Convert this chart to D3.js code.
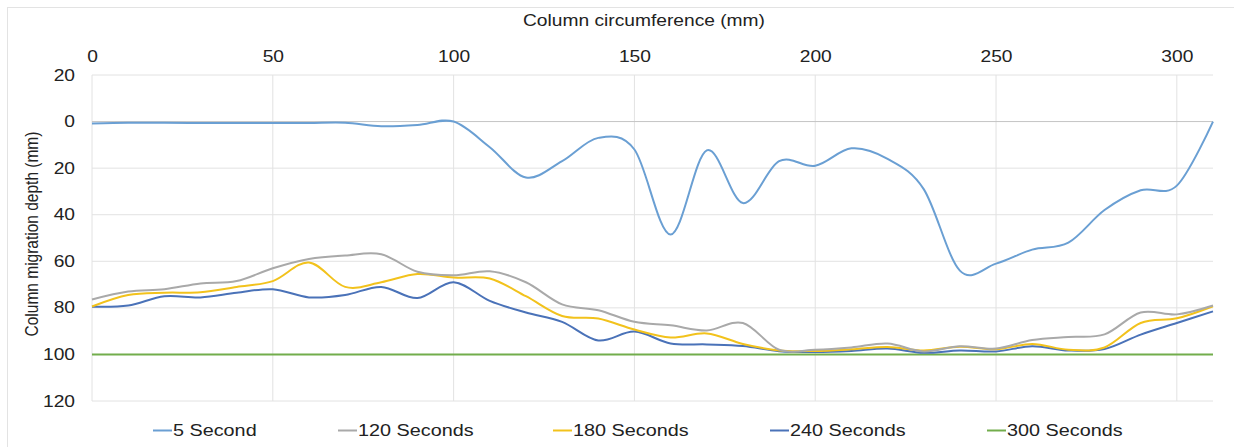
<!DOCTYPE html>
<html>
<head>
<meta charset="utf-8">
<script src="https://cdn.jsdelivr.net/npm/d3@7"></script>
<style>
  body { margin: 0; background: #fff; }
  svg { font-family: "Liberation Sans", Arial, sans-serif; }
</style>
</head>
<body>
<svg id="chart" width="1234" height="447" viewBox="0 0 1234 447"></svg>
<script>
// circumference positions (mm)
const positions = d3.range(0, 311, 10);

// migration depth (mm) per time step
const sec5   = [0.8, 0.5, 0.5, 0.6, 0.6, 0.6, 0.6, 0.5, 2, 1.5, 0, 11, 24, 17, 7, 12, 48.5, 12.4, 35, 17, 19, 11.5, 16, 29, 64, 61, 55, 52, 38, 29.5, 27.5, 0];
const sec120 = [76.4, 73, 72, 69.5, 68.5, 63, 59, 57.5, 57, 64.5, 66, 64.3, 69, 78.5, 81, 86, 87.5, 89.7, 86.5, 98, 98, 97, 95.3, 98.7, 96.5, 97.5, 93.8, 92.5, 91.4, 82, 82.8, 79];
const sec180 = [79.4, 74.5, 73.5, 73.3, 71, 68.5, 60.5, 71, 69, 65.5, 67, 67.4, 75, 83.5, 84.6, 89.3, 92.7, 91, 95.5, 98.3, 98.5, 97.8, 96.8, 98.3, 96.7, 97.8, 95.5, 98, 97, 86.5, 84.5, 79.3];
const sec240 = [79.5, 79, 75, 75.5, 73.5, 72, 75.5, 74.5, 71, 75.8, 69, 77, 82, 86, 94, 90.2, 95.3, 95.7, 96.4, 98.6, 99, 98.5, 97.5, 99.3, 98.3, 98.7, 96.5, 98.3, 97.7, 91.5, 86.5, 81.5];
const sec300 = positions.map(() => 100);

const seriesNames = ["5 Second", "120 Seconds", "180 Seconds", "240 Seconds", "300 Seconds"];
const seriesValues = [sec5, sec120, sec180, sec240, sec300];
const seriesColors = ["#6a9fd3", "#a9a9a9", "#f2c21c", "#4a72b8", "#72ad4c"];

const xTicks = [0, 50, 100, 150, 200, 250, 300];
const yTicks = [-20, 0, 20, 40, 60, 80, 100, 120];

const svg = d3.select("#chart");
const margin = { left: 92, right: 1213, top: 75, bottom: 401 };
// the source image is stretched sideways, so text is too
const stretch = "scale(1.2,1)";

const x = d3.scaleLinear().domain([0, 310]).range([margin.left, margin.right]);
const y = d3.scaleLinear().domain([-20, 120]).range([margin.top, margin.bottom]);

// outer chart frame
svg.append("rect")
    .attr("x", 7.5).attr("y", 7.5)
    .attr("width", 1260).attr("height", 460)
    .attr("fill", "none")
    .attr("stroke", "#e3e3e3");

// gridlines
svg.append("g")
    .selectAll("line")
    .data(xTicks)
    .enter()
    .append("line")
    .attr("x1", d => x(d)).attr("x2", d => x(d))
    .attr("y1", margin.top).attr("y2", margin.bottom)
    .attr("stroke", "#e2e2e2");

svg.append("g")
    .selectAll("line")
    .data(yTicks)
    .enter()
    .append("line")
    .attr("x1", margin.left).attr("x2", margin.right)
    .attr("y1", d => y(d)).attr("y2", d => y(d))
    .attr("stroke", d => d === 0 ? "#c4c4c4" : "#e2e2e2");

// axes (labels only, Excel style)
const xAxis = svg.append("g")
    .attr("transform", `translate(0, ${margin.top - 13.5})`)
    .call(d3.axisTop(x).tickValues(xTicks).tickSize(0).tickPadding(0));
xAxis.select(".domain").remove();
xAxis.selectAll("text")
    .attr("font-size", 16)
    .attr("fill", "#222")
    .attr("font-family", "Liberation Sans, Arial, sans-serif")
    .attr("transform", stretch);

const yAxis = svg.append("g")
    .attr("transform", `translate(${margin.left - 17}, 0)`)
    .call(d3.axisLeft(y).tickValues(yTicks).tickSize(0).tickPadding(0).tickFormat(d => Math.abs(d)));
yAxis.select(".domain").remove();
yAxis.selectAll("text")
    .attr("font-size", 16)
    .attr("fill", "#222")
    .attr("font-family", "Liberation Sans, Arial, sans-serif")
    .attr("transform", stretch);

// axis titles
svg.append("text")
    .attr("transform", `translate(644, 20) ${stretch}`)
    .attr("dy", "0.35em")
    .attr("text-anchor", "middle")
    .attr("font-size", 16)
    .attr("fill", "#222")
    .text("Column circumference (mm)");

svg.append("text")
    .attr("transform", `translate(31.5, 234) ${stretch} rotate(-90)`)
    .attr("dy", "0.35em")
    .attr("text-anchor", "middle")
    .attr("font-size", 15.5)
    .attr("fill", "#222")
    .text("Column migration depth (mm)");

// lines
const line = d3.line()
    .x((d, i) => x(positions[i]))
    .y(d => y(d))
    .curve(d3.curveCardinal.tension(0));

const drawOrder = [4, 3, 2, 1, 0];
svg.append("g")
    .selectAll("path")
    .data(drawOrder)
    .enter()
    .append("path")
    .attr("d", i => line(seriesValues[i]))
    .attr("fill", "none")
    .attr("stroke", i => seriesColors[i])
    .attr("stroke-width", 2);

// legend
const legendX = [153, 338, 553, 770, 987];
const legend = svg.append("g")
    .selectAll("g")
    .data(seriesNames)
    .enter()
    .append("g")
    .attr("transform", (d, i) => `translate(${legendX[i]}, 430.5)`);

legend.append("line")
    .attr("x1", 0).attr("x2", 19)
    .attr("stroke", (d, i) => seriesColors[i])
    .attr("stroke-width", 2);

legend.append("text")
    .attr("transform", `translate(20, 0) ${stretch}`)
    .attr("dy", "0.35em")
    .attr("font-size", 16.5)
    .attr("fill", "#222")
    .text(d => d);
</script>
</body>
</html>
